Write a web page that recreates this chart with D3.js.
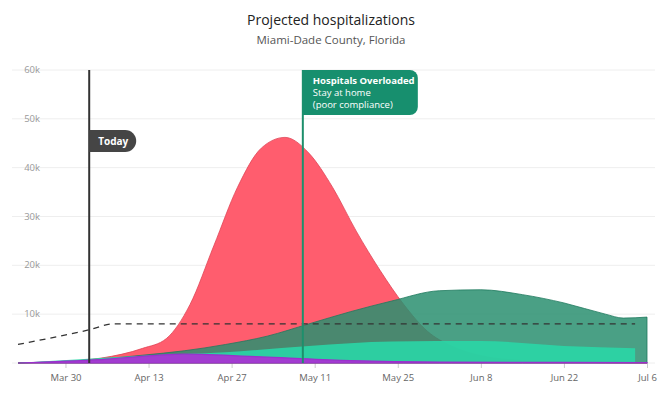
<!DOCTYPE html>
<html><head><meta charset="utf-8">
<script src="https://cdn.jsdelivr.net/npm/d3@7"></script>
<style>body{margin:0;background:#fff;font-family:"Open Sans",sans-serif}</style>
</head><body><svg id="chart"></svg>
<script>
const parse = d3.timeParse("%Y-%m-%d")
const tickDates = ["2020-03-30","2020-04-13","2020-04-27","2020-05-11","2020-05-25","2020-06-08","2020-06-22","2020-07-06"]
const yTicks = [0,10000,20000,30000,40000,50000,60000]

const redDates = ["2020-03-22","2020-03-29","2020-04-05","2020-04-12","2020-04-16","2020-04-20","2020-04-24","2020-04-28","2020-05-02","2020-05-06","2020-05-10","2020-05-14","2020-05-18","2020-05-22","2020-05-26","2020-05-30","2020-06-03","2020-06-08","2020-06-15","2020-06-22","2020-07-06"]
const redVals = [0,300,1000,3000,5000,12000,24000,36000,44000,46200,43000,36000,27000,19000,12000,6500,3500,1500,500,200,0]
const greenDates = ["2020-03-22","2020-04-05","2020-04-12","2020-04-19","2020-04-26","2020-05-03","2020-05-10","2020-05-17","2020-05-24","2020-06-01","2020-06-08","2020-06-15","2020-06-22","2020-06-29","2020-07-02","2020-07-06"]
const greenVals = [0,800,1600,2500,3800,5500,8000,10500,12700,14800,15000,14000,12300,10000,9200,9400]
const tealDates = ["2020-03-22","2020-04-12","2020-04-26","2020-05-10","2020-05-24","2020-06-08","2020-06-22","2020-07-04"]
const tealVals = [0,1500,2200,3500,4400,4500,3500,3000]
const purpleDates = ["2020-03-22","2020-04-05","2020-04-19","2020-05-03","2020-05-17","2020-06-01","2020-07-06"]
const purpleVals = [0,700,1800,1200,500,200,100]
const capDates = ["2020-03-22","2020-03-29","2020-04-03","2020-04-07","2020-07-04"]
const capVals = [3800,5500,6800,8000,8000]
const todayDate = "2020-04-03"
const overloadDate = "2020-05-09"

const W = 663, H = 409
const margin = {top:70, right:16, bottom:46, left:18}
const svg = d3.select("#chart").attr("width", W).attr("height", H)

const x = d3.scaleTime().domain([parse("2020-03-22"), parse("2020-07-06")]).range([margin.left, 647])
const y = d3.scaleLinear().domain([0,60000]).range([H-margin.bottom, margin.top])

svg.append("text").attr("x",331).attr("y",25).attr("text-anchor","middle")
  .style("font-size","14px").style("fill","#222").text("Projected hospitalizations")
svg.append("text").attr("x",331).attr("y",44).attr("text-anchor","middle")
  .style("font-size","11.5px").style("fill","#555").text("Miami-Dade County, Florida")

// grid
svg.append("g").selectAll("line").data(yTicks).join("line")
  .attr("x1",12).attr("x2",655).attr("y1",d=>y(d)).attr("y2",d=>y(d))
  .attr("stroke","#eee")
svg.append("g").selectAll("text").data(yTicks.filter(d=>d>0)).join("text")
  .attr("x",40).attr("y",d=>y(d)+3).attr("text-anchor","end")
  .style("font-size","9.5px").style("fill","#999").text(d=>d3.format("~s")(d))

const xAxis = svg.append("g").attr("transform",`translate(0,${y(0)})`)
  .call(d3.axisBottom(x).tickValues(tickDates.map(parse)).tickFormat(d3.timeFormat("%b %-d")).tickSize(5).tickPadding(6))
xAxis.select(".domain").remove()
xAxis.selectAll("line").attr("stroke","#ccc")
xAxis.selectAll("text").style("font-size","9.5px").style("fill","#666").style("font-family","Open Sans")

const area = d3.area().x(d=>x(d[0])).y0(y(0)).y1(d=>y(d[1])).curve(d3.curveMonotoneX)
const zipd = (ds,vs)=>ds.map((d,i)=>[parse(d),vs[i]])

svg.append("path").datum(zipd(redDates,redVals)).attr("d",area)
  .attr("fill","#ff5d6e").attr("stroke","#e04456").attr("stroke-width",0.8)
svg.append("path").datum(zipd(greenDates,greenVals)).attr("d",area)
  .attr("fill","#2a8f70").attr("fill-opacity",0.85).attr("stroke","#1f7a5e").attr("stroke-width",0.8)
svg.append("path").datum(zipd(tealDates,tealVals)).attr("d",area)
  .attr("fill","#2ad6a6").attr("fill-opacity",0.9)
svg.append("path").datum(zipd(purpleDates,purpleVals)).attr("d",area)
  .attr("fill","#a23cd0").attr("stroke","#9b30cc").attr("stroke-width",1.2)

svg.append("path").datum(zipd(capDates,capVals))
  .attr("d", d3.line().x(d=>x(d[0])).y(d=>y(d[1])).curve(d3.curveMonotoneX))
  .attr("fill","none").attr("stroke","#333").attr("stroke-width",1.3).attr("stroke-dasharray","6,5")

// Today marker
const tx = x(parse(todayDate))
svg.append("line").attr("x1",tx).attr("x2",tx).attr("y1",70).attr("y2",y(0)).attr("stroke","#333").attr("stroke-width",2)
svg.append("path").attr("d",`M${tx},130 H${tx+36} A11,11 0 0 1 ${tx+36},152 H${tx} Z`).attr("fill","#454545")
svg.append("text").attr("x",tx+9).attr("y",145).style("font-size","10px").style("font-weight","bold").style("fill","#fff").text("Today")

// Overload marker
const ox = x(parse(overloadDate))
svg.append("line").attr("x1",ox).attr("x2",ox).attr("y1",70).attr("y2",y(0)).attr("stroke","#1d8f6c").attr("stroke-width",2)
svg.append("path").attr("d",`M${ox},70 H${ox+107} a8,8 0 0 1 8,8 V107 a8,8 0 0 1 -8,8 H${ox} Z`).attr("fill","#178f6e")
const g = svg.append("text").style("font-size","9.5px").style("fill","#fff")
g.append("tspan").attr("x",ox+10).attr("y",84).style("font-weight","bold").text("Hospitals Overloaded")
g.append("tspan").attr("x",ox+10).attr("y",96).text("Stay at home")
g.append("tspan").attr("x",ox+10).attr("y",108).text("(poor compliance)")
</script></body></html>
